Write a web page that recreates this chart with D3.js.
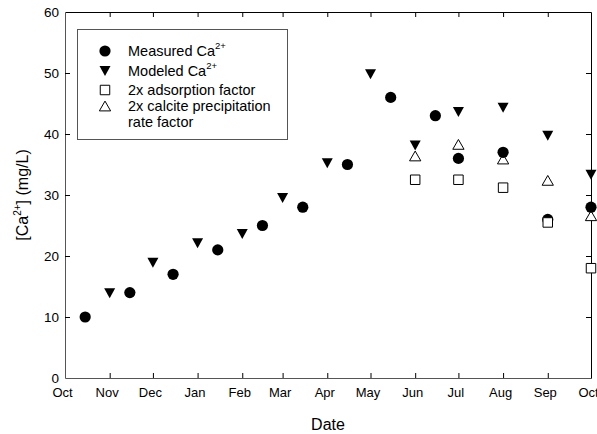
<!DOCTYPE html>
<html>
<head>
<meta charset="utf-8">
<script src="https://cdn.jsdelivr.net/npm/d3@7"></script>
<style>
  html, body { margin: 0; padding: 0; background: #fff; }
  svg { display: block; font-family: "Liberation Sans", Arial, sans-serif; }
</style>
</head>
<body>
<svg id="chart" width="597" height="434"></svg>
<script>
// ---------------- data ----------------
const measuredDates  = ["2002-10-15","2002-11-15","2002-12-15","2003-01-15","2003-02-15","2003-03-15","2003-04-15","2003-05-15","2003-06-15","2003-07-01","2003-08-01","2003-09-01","2003-10-01"];
const measuredValues = [10, 14, 17, 21, 25, 28, 35, 46, 43, 36, 37, 26, 28];

const modeledDates  = ["2002-11-01","2002-12-01","2003-01-01","2003-02-01","2003-03-01","2003-04-01","2003-05-01","2003-06-01","2003-07-01","2003-08-01","2003-09-01","2003-10-01"];
const modeledValues = [13.9, 18.9, 22.1, 23.6, 29.5, 35.2, 49.8, 38.1, 43.6, 44.3, 39.7, 33.3];

const scenarioDates     = ["2003-06-01","2003-07-01","2003-08-01","2003-09-01","2003-10-01"];
const adsorptionValues  = [32.5, 32.5, 31.2, 25.5, 18.0];
const calciteValues     = [36.4, 38.3, 35.9, 32.4, 26.6];

const monthLabels = ["Oct","Nov","Dec","Jan","Feb","Mar","Apr","May","Jun","Jul","Aug","Sep","Oct"];
const yTicks = [0, 10, 20, 30, 40, 50, 60];
const xDomain = ["2002-10-01", "2003-10-01"];
const yDomain = [0, 60];

// ---------------- layout ----------------
const svg = d3.select("#chart");
const L = 65, R = 591, T = 12, B = 378;
const parse = d3.utcParse("%Y-%m-%d");

const x = d3.scaleUtc().domain(xDomain.map(parse)).range([L, R]);
const y = d3.scaleLinear().domain(yDomain).range([B, T]);
const monthTicks = d3.utcMonth.range(parse(xDomain[0]), d3.utcDay.offset(parse(xDomain[1]), 1));

// custom centered symbols
const symDown = { draw(ctx, size) { const w = Math.sqrt(size) * 1.1, h = Math.sqrt(size); ctx.moveTo(-w/2, -h/2); ctx.lineTo(w/2, -h/2); ctx.lineTo(0, h/2); ctx.closePath(); } };
const symUp   = { draw(ctx, size) { const w = Math.sqrt(size) * 1.15, h = Math.sqrt(size); ctx.moveTo(-w/2, h/2); ctx.lineTo(w/2, h/2); ctx.lineTo(0, -h/2); ctx.closePath(); } };
const symSq   = { draw(ctx, size) { const s = Math.sqrt(size); ctx.rect(-s/2, -s/2, s, s); } };

const circlePath = d3.symbol().type(d3.symbolCircle).size(Math.PI * 5.6 * 5.6)();
const downPath   = d3.symbol().type(symDown).size(100)();
const upPath     = d3.symbol().type(symUp).size(96)();
const sqPath     = d3.symbol().type(symSq).size(90)();

// ---------------- axes ----------------
const fmtMonth = (d, i) => monthLabels[i];
const gx = svg.append("g").attr("transform", `translate(0,${B})`)
  .call(d3.axisBottom(x).tickValues(monthTicks).tickFormat(fmtMonth).tickSizeInner(-5).tickSizeOuter(0).tickPadding(10));
const gxt = svg.append("g").attr("transform", `translate(0,${T})`)
  .call(d3.axisTop(x).tickValues(monthTicks).tickFormat("").tickSizeInner(-5).tickSizeOuter(0));
const gy = svg.append("g").attr("transform", `translate(${L},0)`)
  .call(d3.axisLeft(y).tickValues(yTicks).tickSizeInner(-5).tickSizeOuter(0).tickPadding(6));
const gyr = svg.append("g").attr("transform", `translate(${R},0)`)
  .call(d3.axisRight(y).tickValues(yTicks).tickFormat("").tickSizeInner(-5).tickSizeOuter(0));

[gx, gxt, gy, gyr].forEach(g => {
  g.selectAll("text").attr("font-family", "Liberation Sans, Arial, sans-serif").attr("font-size", 13.5).attr("fill", "#000");
});
gx.selectAll("text").attr("font-size", 13).attr("dx", -3);
gx.select(".domain").attr("stroke", "#555");
gy.select(".domain").attr("stroke", "#555");
gxt.select(".domain").attr("stroke", "#000");
gyr.select(".domain").attr("stroke", "#000");
[gx, gxt, gy, gyr].forEach(g => g.selectAll(".tick line").attr("stroke", "#000"));
gx.selectAll(".tick line").filter((d, i) => i === 0 || i === monthTicks.length - 1).remove();
gxt.selectAll(".tick line").filter((d, i) => i === 0 || i === monthTicks.length - 1).remove();
gy.selectAll(".tick line").filter(d => d === 0 || d === 60).remove();
gyr.selectAll(".tick line").filter(d => d === 0 || d === 60).remove();

// axis titles
svg.append("text").attr("x", (L + R) / 2).attr("y", 430).attr("text-anchor", "middle")
  .attr("font-size", 16).text("Date");

const yt = svg.append("text").attr("transform", `translate(28,${(T + B) / 2}) rotate(-90)`)
  .attr("text-anchor", "middle").attr("font-size", 16);
yt.append("tspan").text("[Ca");
yt.append("tspan").attr("dy", -7).attr("font-size", 10).text("2+");
yt.append("tspan").attr("dy", 7).text("] (mg/L)");

// ---------------- markers ----------------
const plot = svg.append("g");
function drawSeries(dates, values, path, fill, stroke) {
  plot.append("g").selectAll("path")
    .data(dates.map((d, i) => ({ d: parse(d), v: values[i] })))
    .join("path")
    .attr("d", path)
    .attr("transform", p => `translate(${x(p.d)},${y(p.v)})`)
    .attr("fill", fill)
    .attr("stroke", stroke)
    .attr("stroke-width", 1);
}
drawSeries(scenarioDates, calciteValues, upPath, "#fff", "#000");
drawSeries(modeledDates, modeledValues, downPath, "#000", "none");
drawSeries(measuredDates, measuredValues, circlePath, "#000", "none");
drawSeries(scenarioDates, adsorptionValues, sqPath, "#fff", "#000");

// ---------------- legend ----------------
const lg = svg.append("g");
lg.append("rect").attr("x", 77.5).attr("y", 29.5).attr("width", 210).attr("height", 110)
  .attr("fill", "#fff").attr("stroke", "#555").attr("stroke-width", 1);

const legendItems = [
  { path: circlePath, fill: "#000", stroke: "none", sy: 51, lines: [["Measured Ca", "2+"]] },
  { path: downPath,   fill: "#000", stroke: "none", sy: 71, lines: [["Modeled Ca", "2+"]] },
  { path: sqPath,     fill: "#fff", stroke: "#000", sy: 90, lines: [["2x adsorption factor", ""]] },
  { path: upPath,     fill: "#fff", stroke: "#000", sy: 106, lines: [["2x calcite precipitation", ""], ["rate factor", ""]] }
];
legendItems.forEach(it => {
  lg.append("path").attr("d", it.path).attr("transform", `translate(105,${it.sy})`)
    .attr("fill", it.fill).attr("stroke", it.stroke).attr("stroke-width", 1);
  it.lines.forEach((ln, j) => {
    const t = lg.append("text").attr("x", 128).attr("y", it.sy + 5.2 + j * 16).attr("font-size", 14.5);
    t.append("tspan").text(ln[0]);
    if (ln[1]) t.append("tspan").attr("dy", -7).attr("font-size", 9.5).text(ln[1]);
  });
});
</script>
</body>
</html>
